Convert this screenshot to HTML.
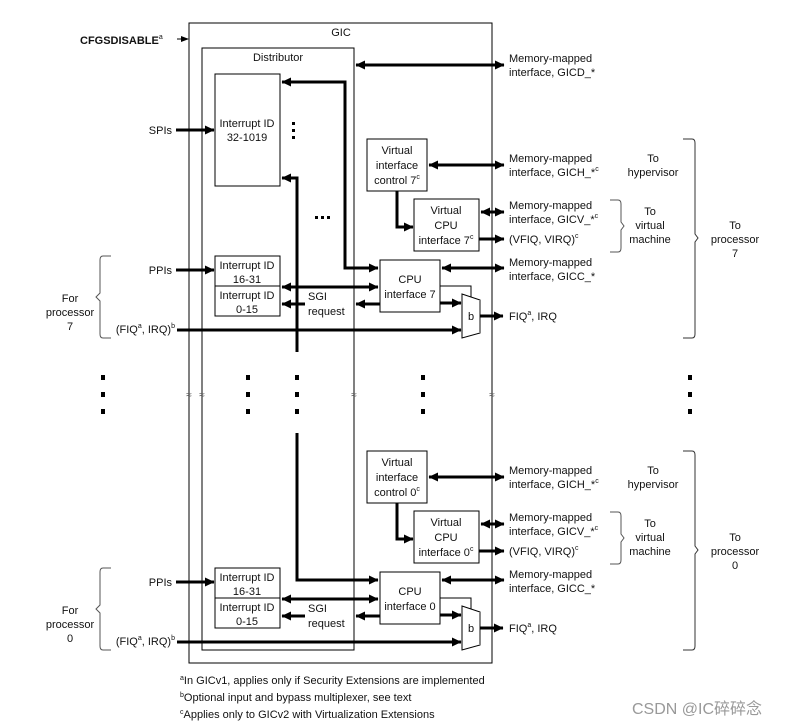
<!DOCTYPE html>
<html><head><meta charset="utf-8"><style>
html,body{margin:0;padding:0;background:#fff}
svg{display:block}
text{font-family:"Liberation Sans",Arial,sans-serif;font-size:11px;fill:#111}
.c{text-anchor:middle}
.e{text-anchor:end}
</style></head><body>
<svg width="797" height="727" viewBox="0 0 797 727" xmlns="http://www.w3.org/2000/svg">
<defs>
<marker id="ar" markerUnits="userSpaceOnUse" markerWidth="10" markerHeight="10" refX="9" refY="5" orient="auto"><path d="M0,0.5 L9.5,5 L0,9.5 Z" fill="#000"/></marker>
<marker id="al" markerUnits="userSpaceOnUse" markerWidth="10" markerHeight="10" refX="1" refY="5" orient="auto"><path d="M10,0.5 L0.5,5 L10,9.5 Z" fill="#000"/></marker>
<marker id="as" markerUnits="userSpaceOnUse" markerWidth="8" markerHeight="8" refX="7" refY="4" orient="auto"><path d="M0,1 L8,4 L0,7 Z" fill="#000"/></marker>
<g id="proc">
 <rect x="367" y="139" width="60" height="52" fill="#fff" stroke="#000"/>
 <text class="c" x="397" y="154">Virtual</text><text class="c" x="397" y="169">interface</text><text class="c" x="397" y="184">control N</text>
 <rect x="414" y="199" width="65" height="52" fill="#fff" stroke="#000"/>
 <text class="c" x="446" y="214">Virtual</text><text class="c" x="446" y="229">CPU</text>
 <path d="M397,191 V227 H413" fill="none" stroke="#000" stroke-width="3" marker-end="url(#ar)"/>
 <rect x="380" y="260" width="60" height="52" fill="#fff" stroke="#000"/>
 <text class="c" x="410" y="283">CPU</text>
 <rect x="215" y="256" width="65" height="30" fill="#fff" stroke="#000"/>
 <rect x="215" y="286" width="65" height="30" fill="#fff" stroke="#000"/>
 <text class="c" x="247" y="269">Interrupt ID</text><text class="c" x="247" y="283">16-31</text>
 <text class="c" x="247" y="299">Interrupt ID</text><text class="c" x="247" y="313">0-15</text>
 <line x1="176" y1="270" x2="214" y2="270" stroke="#000" stroke-width="3" marker-end="url(#ar)"/>
 <line x1="282" y1="287" x2="378" y2="287" stroke="#000" stroke-width="3" marker-start="url(#al)" marker-end="url(#ar)"/>
 <line x1="305" y1="304" x2="282" y2="304" stroke="#000" stroke-width="3" marker-end="url(#ar)"/>
 <line x1="380" y1="304" x2="356" y2="304" stroke="#000" stroke-width="3" marker-end="url(#ar)"/>
 <text x="308" y="300">SGI</text><text x="308" y="315">request</text>
 <path d="M440,286 H471 V297" fill="none" stroke="#000"/>
 <path d="M462,294 L480,300 L480,333 L462,338 Z" fill="#fff" stroke="#000"/>
 <line x1="480" y1="300" x2="480" y2="333" stroke="#888" stroke-width="2"/>
 <text class="c" x="471" y="320">b</text>
 <line x1="440" y1="303" x2="461" y2="303" stroke="#000" stroke-width="3" marker-end="url(#ar)"/>
 <line x1="177" y1="330" x2="461" y2="330" stroke="#000" stroke-width="3" marker-end="url(#ar)"/>
 <line x1="480" y1="316" x2="503" y2="316" stroke="#000" stroke-width="3" marker-end="url(#ar)"/>
 <line x1="429" y1="165" x2="504" y2="165" stroke="#000" stroke-width="3" marker-start="url(#al)" marker-end="url(#ar)"/>
 <line x1="481" y1="212" x2="504" y2="212" stroke="#000" stroke-width="3" marker-start="url(#al)" marker-end="url(#ar)"/>
 <line x1="479" y1="239" x2="504" y2="239" stroke="#000" stroke-width="3" marker-end="url(#ar)"/>
 <line x1="442" y1="268" x2="504" y2="268" stroke="#000" stroke-width="3" marker-start="url(#al)" marker-end="url(#ar)"/>
 <text x="509" y="162">Memory-mapped</text><text x="509" y="176">interface, GICH_*<tspan font-size="7" dy="-5">c</tspan></text>
 <text x="509" y="209">Memory-mapped</text><text x="509" y="223">interface, GICV_*<tspan font-size="7" dy="-5">c</tspan></text>
 <text x="509" y="243">(VFIQ, VIRQ)<tspan font-size="7" dy="-5">c</tspan></text>
 <text x="509" y="266">Memory-mapped</text><text x="509" y="280">interface, GICC_*</text>
 <text x="509" y="320">FIQ<tspan font-size="7" dy="-5">a</tspan><tspan dy="5">, IRQ</tspan></text>
 <text class="c" x="653" y="162">To</text><text class="c" x="653" y="176">hypervisor</text>
 <text class="c" x="650" y="215">To</text><text class="c" x="650" y="229">virtual</text><text class="c" x="650" y="243">machine</text>
 <path d="M610,200 H618 Q621,200 621,204 V222 L624,226 L621,230 V248 Q621,252 618,252 H610" fill="none" stroke="#555"/>
 <path d="M683,139 H692 Q695,139 695,143 V234 L698,238 L695,242 V334 Q695,338 692,338 H683" fill="none" stroke="#333"/>
 <text class="e" x="172" y="274">PPIs</text>
 <text class="c" x="70" y="302">For</text><text class="c" x="70" y="316">processor</text>
 <path d="M111,256 H103 Q100,256 100,260 V293 L96,297 L100,301 V334 Q100,338 103,338 H111" fill="none" stroke="#555"/>
 <text class="e" x="175" y="333">(FIQ<tspan font-size="7" dy="-5">a</tspan><tspan dy="5">, IRQ)</tspan><tspan font-size="7" dy="-5">b</tspan></text>
</g>
</defs>
<rect x="189" y="23" width="303" height="640" fill="none" stroke="#000"/>
<rect x="202" y="48" width="152" height="602" fill="none" stroke="#000"/>
<text class="c" x="341" y="36">GIC</text>
<text class="c" x="278" y="61">Distributor</text>
<text x="80" y="44" style="font-weight:bold">CFGSDISABLE<tspan font-size="7" dy="-5" font-weight="normal">a</tspan></text>
<line x1="177" y1="39" x2="188" y2="39" stroke="#000" marker-end="url(#as)"/>
<rect x="215" y="74" width="65" height="112" fill="#fff" stroke="#000"/>
<text class="c" x="247" y="127">Interrupt ID</text><text class="c" x="247" y="141">32-1019</text>
<line x1="176" y1="130" x2="214" y2="130" stroke="#000" stroke-width="3" marker-end="url(#ar)"/>
<text class="e" x="172" y="134">SPIs</text>
<rect x="292" y="122" width="3" height="3"/><rect x="292" y="129" width="3" height="3"/><rect x="292" y="136" width="3" height="3"/>
<rect x="315" y="216" width="3" height="3"/><rect x="321" y="216" width="3" height="3"/><rect x="327" y="216" width="3" height="3"/>
<line x1="356" y1="65" x2="504" y2="65" stroke="#000" stroke-width="3" marker-start="url(#al)" marker-end="url(#ar)"/>
<text x="509" y="62">Memory-mapped</text><text x="509" y="76">interface, GICD_*</text>
<path d="M282,82 H345 V268 H378" fill="none" stroke="#000" stroke-width="3" marker-start="url(#al)" marker-end="url(#ar)"/>
<path d="M282,178 H297 V352" fill="none" stroke="#000" stroke-width="3" marker-start="url(#al)"/>
<path d="M297,433 V580 H378" fill="none" stroke="#000" stroke-width="3" marker-end="url(#ar)"/>
<use href="#proc"/>
<use href="#proc" transform="translate(0,312)"/>
<rect x="368" y="174" width="58" height="12" fill="#fff"/><text class="c" x="397" y="184">control 7<tspan font-size="7" dy="-5">c</tspan></text>
<rect x="368" y="486" width="58" height="12" fill="#fff"/><text class="c" x="397" y="496">control 0<tspan font-size="7" dy="-5">c</tspan></text>
<text class="c" x="446" y="244">interface 7<tspan font-size="7" dy="-5">c</tspan></text>
<text class="c" x="446" y="556">interface 0<tspan font-size="7" dy="-5">c</tspan></text>
<text class="c" x="410" y="298">interface 7</text><text class="c" x="410" y="610">interface 0</text>
<text class="c" x="735" y="229">To</text><text class="c" x="735" y="243">processor</text><text class="c" x="735" y="257">7</text>
<text class="c" x="735" y="541">To</text><text class="c" x="735" y="555">processor</text><text class="c" x="735" y="569">0</text>
<text class="c" x="70" y="330">7</text><text class="c" x="70" y="642">0</text>
<g fill="#000">
<rect x="101" y="375" width="4" height="5"/><rect x="101" y="392" width="4" height="5"/><rect x="101" y="409" width="4" height="5"/>
<rect x="246" y="375" width="4" height="5"/><rect x="246" y="392" width="4" height="5"/><rect x="246" y="409" width="4" height="5"/>
<rect x="295" y="375" width="4" height="5"/><rect x="295" y="392" width="4" height="5"/><rect x="295" y="409" width="4" height="5"/>
<rect x="421" y="375" width="4" height="5"/><rect x="421" y="392" width="4" height="5"/><rect x="421" y="409" width="4" height="5"/>
<rect x="688" y="375" width="4" height="5"/><rect x="688" y="392" width="4" height="5"/><rect x="688" y="409" width="4" height="5"/>
</g>
<text class="c" x="189" y="398" style="font-size:10px;fill:#555">≈</text><text class="c" x="202" y="398" style="font-size:10px;fill:#555">≈</text><text class="c" x="354" y="398" style="font-size:10px;fill:#555">≈</text><text class="c" x="492" y="398" style="font-size:10px;fill:#555">≈</text>
<text x="180" y="684"><tspan font-size="7" dy="-4">a</tspan><tspan dy="4">In GICv1, applies only if Security Extensions are implemented</tspan></text>
<text x="180" y="701"><tspan font-size="7" dy="-4">b</tspan><tspan dy="4">Optional input and bypass multiplexer, see text</tspan></text>
<text x="180" y="718"><tspan font-size="7" dy="-4">c</tspan><tspan dy="4">Applies only to GICv2 with Virtualization Extensions</tspan></text>
<text x="632" y="714" style="font-family:'Liberation Sans','Noto Sans CJK SC',sans-serif;font-size:16px;fill:#999">CSDN @IC碎碎念</text>
</svg>
</body></html>
